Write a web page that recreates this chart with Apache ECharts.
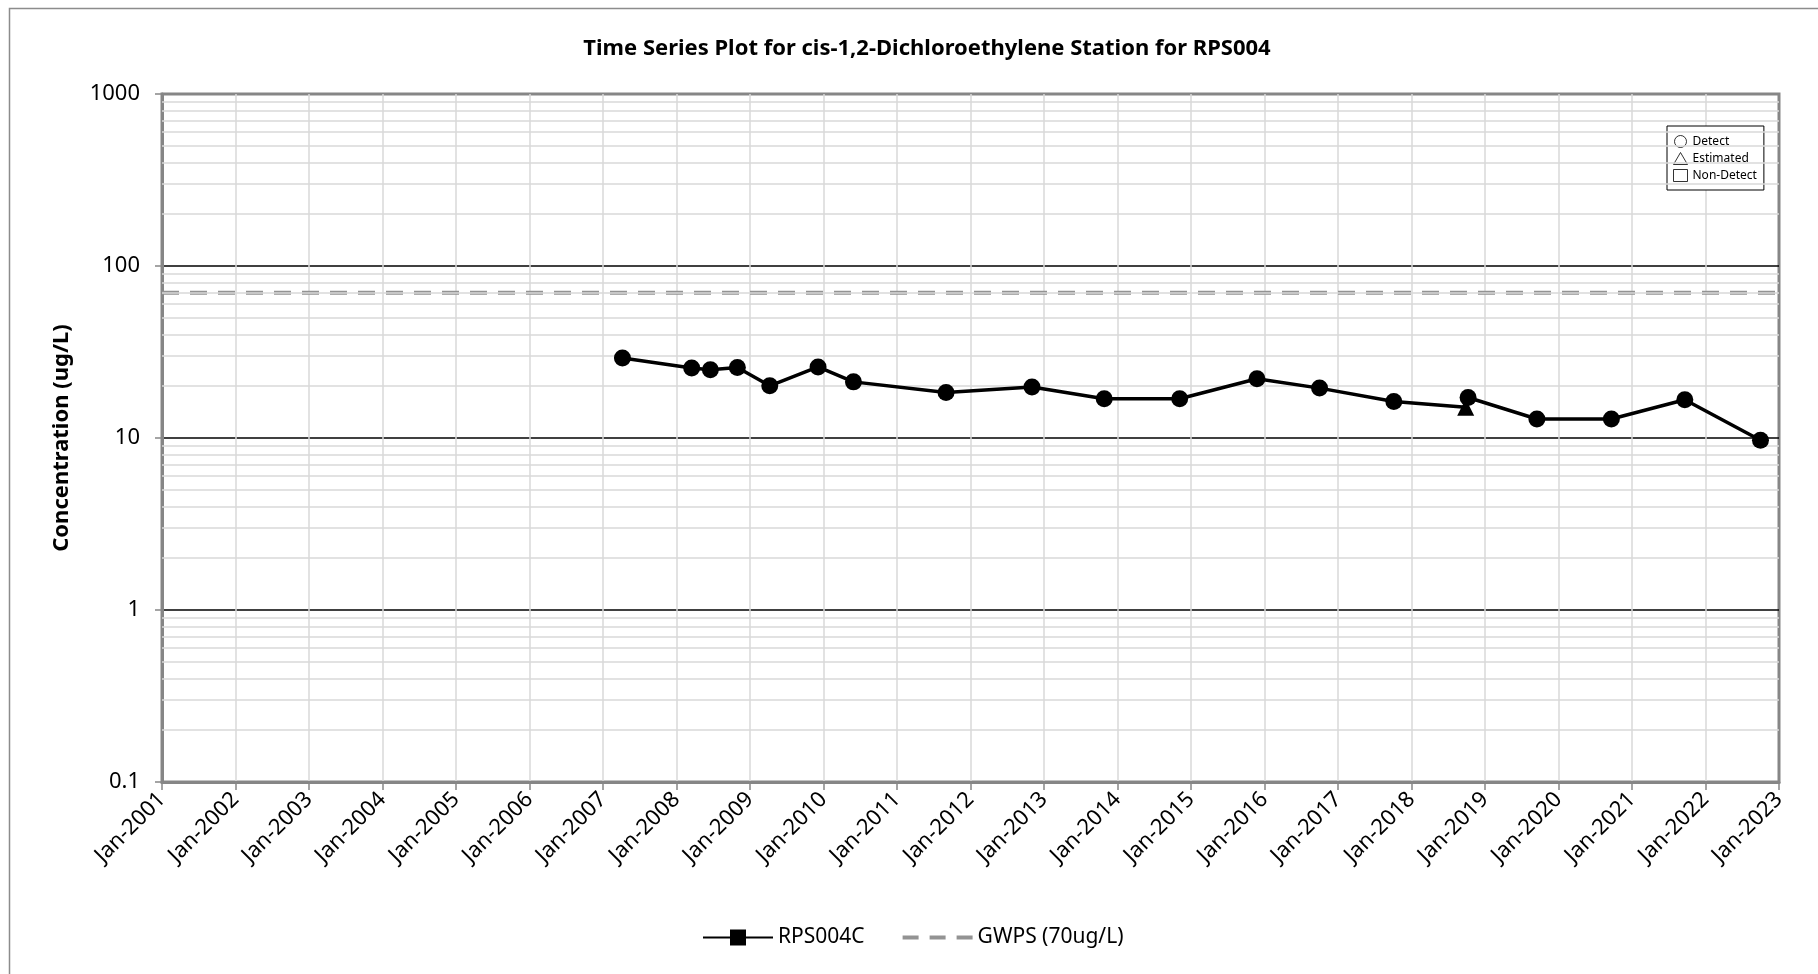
<!DOCTYPE html>
<html>
<head>
<meta charset="utf-8">
<script src="https://cdn.jsdelivr.net/npm/echarts@6/dist/echarts.min.js"></script>
<style>
  html, body { margin: 0; padding: 0; background: #fff; }
  #chart { width: 1818px; height: 974px; }
</style>
</head>
<body>
<div id="chart"></div>
<script>
// sample dates and results for RPS004C (ug/L)
var sampleDates = ['2007-04-08', '2008-03-17', '2008-06-18', '2008-10-30', '2009-04-09',
  '2009-12-05', '2010-05-30', '2011-09-02', '2012-11-02', '2013-10-27', '2014-11-06',
  '2015-11-25', '2016-10-01', '2017-10-05', '2018-09-27', '2018-10-09', '2019-09-16',
  '2020-09-20', '2021-09-20', '2022-10-01'];
var sampleValues = [29.2, 25.5, 24.9, 25.7, 20.1, 25.9, 21.2, 18.4, 19.8, 16.9, 16.9,
  22.1, 19.5, 16.3, 15.1, 17.2, 12.9, 12.9, 16.7, 9.7];
// D = detect, E = estimated
var sampleFlags = ['D', 'D', 'D', 'D', 'D', 'D', 'D', 'D', 'D', 'D', 'D',
  'D', 'D', 'D', 'E', 'D', 'D', 'D', 'D', 'D'];

var gwpsValue = 70;
var axisStart = '2001-01-01';
var axisEnd = '2023-01-01';
var yMin = 0.1;
var yMax = 1000;
// minor log gridlines (2..9 in every decade)
var minorLevels = [0.2, 0.3, 0.4, 0.5, 0.6, 0.7, 0.8, 0.9,
  2, 3, 4, 5, 6, 7, 8, 9,
  20, 30, 40, 50, 60, 70, 80, 90,
  200, 300, 400, 500, 600, 700, 800, 900];

var FONT = 'Noto Sans';
var AXIS_GREY = '#868686';
var GRID_GREY = '#d9d9d9';
var GWPS_GREY = '#939393';
var hollow = { color: '#fff', borderColor: '#000', borderWidth: 1 };

var mainData = sampleDates.map(function (d, i) {
  return {
    value: [d, sampleValues[i]],
    symbol: sampleFlags[i] === 'E' ? 'triangle' : 'circle'
  };
});

var option = {
  animation: false,
  backgroundColor: '#fff',
  title: {
    text: 'Time Series Plot for cis-1,2-Dichloroethylene Station for RPS004',
    left: 922,
    textAlign: 'center',
    top: 33,
    textStyle: { fontFamily: FONT, fontSize: 22, fontWeight: 'bold', color: '#000' }
  },
  // chart frame: only the left and top edges fall inside the picture
  graphic: [{
    type: 'polyline',
    shape: { points: [[9.5, 974], [9.5, 8.5], [1818, 8.5]] },
    style: { fill: null, stroke: '#8c8c8c', lineWidth: 1.5 },
    silent: true
  }],
  legend: [{
    left: 697,
    top: 922,
    itemWidth: 70,
    itemHeight: 20,
    itemGap: 36,
    textStyle: { fontFamily: FONT, fontSize: 21, color: '#000' },
    data: [
      'RPS004C',
      {
        name: 'GWPS (70ug/L)',
        itemStyle: { opacity: 0 },
        lineStyle: { color: GWPS_GREY, width: 4, type: [16, 11] }
      }
    ]
  }, {
    left: 1667,
    top: 126,
    orient: 'vertical',
    itemWidth: 14,
    itemHeight: 12,
    itemGap: 4,
    padding: [9, 7, 8, 6],
    borderColor: '#000',
    borderWidth: 1,
    backgroundColor: '#fff',
    textStyle: { fontFamily: FONT, fontSize: 12, color: '#000' },
    data: [
      { name: 'Detect', icon: 'circle', itemStyle: hollow },
      { name: 'Estimated', icon: 'triangle', itemStyle: hollow },
      { name: 'Non-Detect', icon: 'rect', itemStyle: hollow }
    ]
  }],
  grid: {
    left: 162,
    right: 39,
    top: 94,
    bottom: 192,
    show: true,
    borderColor: AXIS_GREY,
    borderWidth: 3
  },
  xAxis: {
    type: 'time',
    min: axisStart,
    max: axisEnd,
    minInterval: 365 * 86400000,
    maxInterval: 366 * 86400000,
    axisLine: { lineStyle: { color: AXIS_GREY, width: 3 } },
    axisTick: { length: 8, lineStyle: { color: AXIS_GREY, width: 1.5 } },
    axisLabel: {
      rotate: 45,
      margin: 14,
      formatter: '{MMM}-{yyyy}',
      fontFamily: FONT,
      fontSize: 22,
      color: '#000',
      showMinLabel: true,
      showMaxLabel: true
    },
    splitLine: { show: true, showMaxLine: false, lineStyle: { color: GRID_GREY, width: 1.5 } }
  },
  yAxis: {
    type: 'log',
    logBase: 10,
    min: yMin,
    max: yMax,
    name: 'Concentration (ug/L)',
    nameLocation: 'middle',
    nameGap: 89,
    nameTextStyle: { fontFamily: FONT, fontSize: 22, fontWeight: 'bold', color: '#000' },
    axisLine: { show: true, lineStyle: { color: AXIS_GREY, width: 3 } },
    axisTick: { show: true, length: 7, lineStyle: { color: AXIS_GREY, width: 1.5 } },
    axisLabel: {
      margin: 22,
      fontFamily: FONT,
      fontSize: 22,
      color: '#000',
      formatter: function (v) { return String(Math.round(v * 10) / 10); }
    },
    splitLine: { show: true, showMinLine: false, showMaxLine: false, lineStyle: { color: '#000', width: 1.5 } }
  },
  series: [{
    name: 'minor grid',
    type: 'line',
    data: [],
    silent: true,
    z: 0,
    markLine: {
      silent: true,
      symbol: 'none',
      label: { show: false },
      lineStyle: { color: GRID_GREY, width: 1.5, type: 'solid' },
      data: minorLevels.map(function (v) { return { yAxis: v }; })
    }
  }, {
    name: 'GWPS (70ug/L)',
    type: 'line',
    data: [[axisStart, gwpsValue], [axisEnd, gwpsValue]],
    symbol: 'none',
    color: GWPS_GREY,
    lineStyle: { color: GWPS_GREY, width: 4, type: [17, 11] },
    z: 3
  }, {
    name: 'RPS004C',
    type: 'line',
    data: mainData,
    symbol: 'rect',
    symbolSize: 17,
    color: '#000',
    itemStyle: { color: '#000' },
    lineStyle: { color: '#000', width: 3.5 },
    z: 5
  }, {
    name: 'Detect', type: 'scatter', data: []
  }, {
    name: 'Estimated', type: 'scatter', data: []
  }, {
    name: 'Non-Detect', type: 'scatter', data: []
  }]
};

var chart = echarts.init(document.getElementById('chart'));
chart.setOption(option);
</script>
</body>
</html>
